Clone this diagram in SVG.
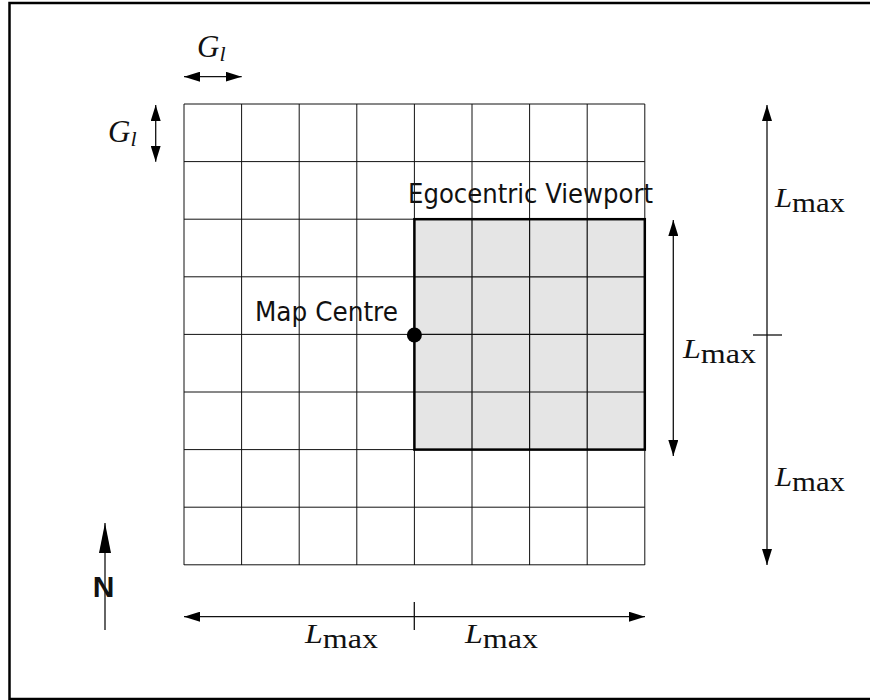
<svg xmlns="http://www.w3.org/2000/svg" width="870" height="700" viewBox="0 0 870 700">
<style>
.grid{stroke:#111;stroke-width:1;fill:none}
.ln{stroke:#111;stroke-width:1.3;fill:none}
.math{font-family:"Liberation Serif","DejaVu Serif",serif;font-size:28px;fill:#111}
.it{font-style:italic}
.sans{font-family:"DejaVu Sans","Liberation Sans",sans-serif;font-size:26px;fill:#111}
</style>
<defs>
<marker id="ah" viewBox="0 0 16 10" refX="16" refY="5" markerWidth="16" markerHeight="10" markerUnits="userSpaceOnUse" orient="auto-start-reverse">
<path d="M0,0 L16,5 L0,10 Z" fill="#000"/>
</marker>
<marker id="ahN" viewBox="0 0 30 12" refX="30" refY="6" markerWidth="30" markerHeight="12" markerUnits="userSpaceOnUse" orient="auto">
<path d="M0,0 L30,6 L0,12 Z" fill="#000"/>
</marker>
</defs>
<rect x="9.5" y="3" width="880" height="696" fill="#fff" stroke="#000" stroke-width="2.5"/>
<g id="map-grid">
<path class="grid" d="M184,104V565M241.6,104V565M299.2,104V565M356.8,104V565M414.4,104V565M472,104V565M529.6,104V565M587.2,104V565M644.8,104V565M184,104H644.8M184,161.6H644.8M184,219.2H644.8M184,276.8H644.8M184,334.4H644.8M184,392H644.8M184,449.6H644.8M184,507.2H644.8M184,564.8H644.8"/>
</g>
<g id="viewport">
<rect x="414.4" y="219.2" width="230.4" height="230.4" fill="#e5e5e5" stroke="none"/>
<path d="M472,219.2V449.6M529.6,219.2V449.6M587.2,219.2V449.6M414.4,276.8H644.8M414.4,334.4H644.8M414.4,392H644.8" stroke="#111" stroke-width="1.2" fill="none"/>
<rect x="414.4" y="219.2" width="230.4" height="230.4" fill="none" stroke="#000" stroke-width="2.5"/>
<text class="sans" x="408" y="203" textLength="245" lengthAdjust="spacingAndGlyphs">Egocentric Viewport</text>
</g>
<g id="map-centre">
<circle cx="414.4" cy="335" r="7.5" fill="#000"/>
<text class="sans" x="255" y="321" textLength="143" lengthAdjust="spacingAndGlyphs">Map Centre</text>
</g>
<g id="connectors">
<line class="ln" x1="184" y1="76.7" x2="241.7" y2="76.7" marker-start="url(#ah)" marker-end="url(#ah)"/>
<line class="ln" x1="155.7" y1="105" x2="155.7" y2="161.7" marker-start="url(#ah)" marker-end="url(#ah)"/>
<line class="ln" x1="767" y1="105" x2="767" y2="565" marker-start="url(#ah)" marker-end="url(#ah)"/>
<line class="ln" x1="753" y1="335" x2="782" y2="335"/>
<line class="ln" x1="673.3" y1="220" x2="673.3" y2="456" marker-start="url(#ah)" marker-end="url(#ah)"/>
<line class="ln" x1="184" y1="616.7" x2="645" y2="616.7" marker-start="url(#ah)" marker-end="url(#ah)"/>
<line class="ln" x1="414.3" y1="602" x2="414.3" y2="630"/>
<line class="ln" x1="105" y1="630" x2="105" y2="523" marker-end="url(#ahN)"/>
</g>
<g id="labels">
<text class="math" x="197" y="57"><tspan class="it" font-size="31">G</tspan><tspan class="it" font-size="22" dy="4">l</tspan></text>
<text class="math" x="108" y="142"><tspan class="it" font-size="31">G</tspan><tspan class="it" font-size="22" dy="4">l</tspan></text>
<text class="math" x="775" y="207" textLength="70" lengthAdjust="spacingAndGlyphs"><tspan class="it">L</tspan><tspan dy="5">max</tspan></text>
<text class="math" x="683" y="358" textLength="73" lengthAdjust="spacingAndGlyphs"><tspan class="it">L</tspan><tspan dy="5">max</tspan></text>
<text class="math" x="775" y="486" textLength="70" lengthAdjust="spacingAndGlyphs"><tspan class="it">L</tspan><tspan dy="5">max</tspan></text>
<text class="math" x="305" y="643" textLength="73" lengthAdjust="spacingAndGlyphs"><tspan class="it">L</tspan><tspan dy="5">max</tspan></text>
<text class="math" x="465" y="643" textLength="73" lengthAdjust="spacingAndGlyphs"><tspan class="it">L</tspan><tspan dy="5">max</tspan></text>
<text x="103.5" y="597" text-anchor="middle" font-family="Liberation Sans, Arial, sans-serif" font-weight="bold" font-size="30" fill="#111">N</text>
</g>
</svg>
